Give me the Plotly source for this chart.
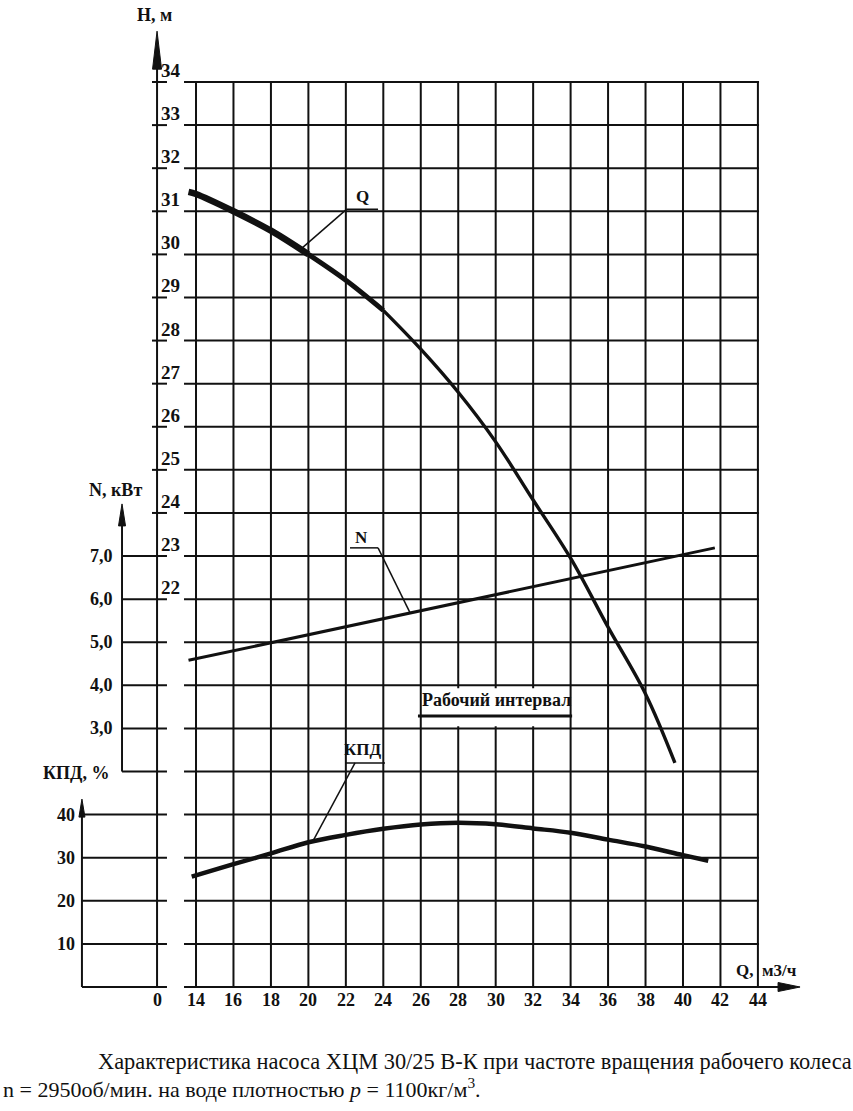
import plotly.graph_objects as go

# ---------------- data ----------------
# Q-H curve (напор)
q_head = [13.6, 14, 16, 18, 20, 22, 24, 26, 28, 30, 32, 34, 36, 38, 39.57]
head_m = [31.45, 31.4, 31.0, 30.55, 30.0, 29.4, 28.7, 27.8, 26.8, 25.65, 24.3, 22.95, 21.35, 19.8, 18.2]

# N line (мощность)
q_power = [13.6, 41.7]
power_kw = [4.58, 7.19]

# КПД curve
q_eff = [13.77, 16, 18, 20, 22, 24, 26, 28, 30, 32, 34, 36, 38, 40, 41.35]
eff_pct = [25.6, 28.5, 31.0, 33.6, 35.3, 36.7, 37.7, 38.1, 37.75, 36.8, 35.8, 34.2, 32.6, 30.6, 29.3]

# tick labels
q_ticks = list(range(14, 46, 2))
h_ticks = list(range(22, 35))
h_grid = list(range(13, 35))
n_ticks = [3.0, 4.0, 5.0, 6.0, 7.0]
n_grid = [2.0, 3.0, 4.0, 5.0, 6.0, 7.0]
eff_ticks = [10, 20, 30, 40]
eff_grid = [0, 10, 20, 30, 40]

caption1 = "Характеристика насоса ХЦМ 30/25 В-К при частоте вращения рабочего колеса"
caption2 = "n = 2950об/мин. на воде плотностью <i>p</i> = 1100кг/м<sup>3</sup>."

# ---------------- layout constants (axis units) ----------------
W, Hh = 853, 1111
X_RANGE = [3.535, 49.077]          # Q units across the page
H_RANGE = [10.1226, 35.903]        # H units across the page
N_OFF = 16.0                       # N = H - 16 (shared grid)
E_OFF, E_SC = 13.0, 10.0           # КПД = 10*(H - 13)

QU = (X_RANGE[1] - X_RANGE[0]) / W     # Q units per pixel
HU = (H_RANGE[1] - H_RANGE[0]) / Hh    # H units per pixel

X_HAX = 11.92     # H axis position
X_NAX = 10.05     # N axis position
X_EAX = 7.91      # КПД axis position
X_STUB0 = 11.65
X_STUB1 = 12.45
X_GRID0 = 13.36
X_GRID1 = 44.06
X_ARROW = 46.25

BLACK = "#111111"
FONT = "Liberation Serif, Times New Roman, Tinos, DejaVu Serif, serif"


def n2h(v):
    return v + N_OFF


def e2h(v):
    return v / E_SC + E_OFF


fig = go.Figure()

# ---------------- curves ----------------
segments = [(0, 5, 6.5), (4, 7, 5.0), (6, 15, 3.4)]
for a, b, w in segments:
    fig.add_trace(go.Scatter(x=q_head[a:b], y=head_m[a:b], mode="lines",
                             line=dict(color=BLACK, width=w, shape="spline", smoothing=1.0),
                             hoverinfo="skip", yaxis="y"))
fig.add_trace(go.Scatter(x=q_power, y=power_kw, mode="lines",
                         line=dict(color=BLACK, width=3), hoverinfo="skip", yaxis="y2"))
fig.add_trace(go.Scatter(x=q_eff, y=eff_pct, mode="lines",
                         line=dict(color=BLACK, width=4.5, shape="spline", smoothing=1.0),
                         hoverinfo="skip", yaxis="y3"))

shapes = []


def line(x0, y0, x1, y1, w=2.0, layer="below"):
    shapes.append(dict(type="line", xref="x", yref="y", x0=x0, y0=y0, x1=x1, y1=y1,
                       line=dict(color=BLACK, width=w), layer=layer))


# vertical grid
for q in q_ticks:
    line(q, h_grid[0], q, h_grid[-1])
# horizontal grid
for h in h_grid:
    line(X_GRID0, h, X_GRID1, h)
# x axis extension to arrow
line(X_GRID1, h_grid[0], X_ARROW - 0.6, h_grid[0])

# H axis
line(X_HAX, h_grid[0], X_HAX, 34.6)
for h in range(24, 35):
    line(X_STUB0, h, X_STUB1, h)
# N axis
line(X_NAX, n2h(n_grid[0]), X_NAX, 23.9)
for n in n_grid:
    line(X_NAX, n2h(n), X_STUB1, n2h(n))
# КПД axis
line(X_EAX, e2h(eff_grid[0]), X_EAX, 17.1)
for e in eff_grid:
    line(X_EAX, e2h(e), X_STUB1, e2h(e))


def tri(xt, yt, dx, dy, vertical=True):
    if vertical:
        p = f"M {xt},{yt} L {xt - dx},{yt - dy} L {xt + dx},{yt - dy} Z"
    else:
        p = f"M {xt},{yt} L {xt - dx},{yt - dy} L {xt - dx},{yt + dy} Z"
    shapes.append(dict(type="path", xref="x", yref="y", path=p,
                       fillcolor=BLACK, line=dict(color=BLACK, width=1), layer="above"))


tri(X_HAX, 35.18, 4.5 * QU, 38 * HU)
tri(X_NAX, n2h(8.21), 3.5 * QU, 22 * HU)
tri(X_EAX, e2h(43.6), 3.0 * QU, 18 * HU)
tri(X_ARROW, h_grid[0], 22 * QU, 4.5 * HU, vertical=False)

# white box behind "Рабочий интервал"
shapes.append(dict(type="rect", xref="x", yref="y", x0=26.12, x1=33.91, y0=19.05, y1=19.93,
                   fillcolor="white", line=dict(width=0), layer="above"))
# its underline
line(25.85, 19.29, 34.08, 19.29, w=3, layer="above")

# leader lines and label underlines
line(22.05, 31.05, 23.72, 31.05, w=1.5, layer="above")     # Q underline
line(22.05, 31.05, 19.64, 30.14, w=1.5, layer="above")     # Q leader
line(22.22, n2h(7.19), 23.72, n2h(7.19), w=1.5, layer="above")  # N underline
line(23.72, n2h(7.19), 25.43, n2h(5.68), w=1.5, layer="above")  # N leader
line(21.96, e2h(52.0), 24.09, e2h(52.0), w=1.5, layer="above")  # КПД underline
line(22.49, e2h(52.0), 20.25, e2h(33.9), w=1.5, layer="above")  # КПД leader

ann = []


def txt(x, y, s, size=17, xa="center", ya="middle", bold=True, yref="y"):
    ann.append(dict(x=x, y=y, xref="x", yref=yref, text=(f"<b>{s}</b>" if bold else s),
                    showarrow=False, xanchor=xa, yanchor=ya, borderpad=0,
                    font=dict(family=FONT, size=size, color=BLACK)))


# tick labels
for h in h_ticks:
    txt(12.08, h, str(h), size=19, xa="left", ya="bottom")
for n in n_ticks:
    txt(9.62, n2h(n), f"{n:.1f}".replace(".", ","), size=18, xa="right")
for e in eff_ticks:
    txt(7.59, e2h(e), str(e), size=18, xa="right")
for q in q_ticks:
    txt(q, 12.70, str(q), size=18)
txt(X_HAX, 12.70, "0", size=18)

# axis titles
txt(11.81, 35.55, "H, м", size=18)
txt(9.68, 24.53, "N, кВт", size=18)
txt(7.59, 17.97, "КПД, %", size=18)
txt(43.79, 13.39, "Q,", size=17, xa="right")
txt(44.16, 13.39, "м3/ч", size=17, xa="left")

# curve labels
txt(22.9, 31.34, "Q", size=17)
txt(22.86, n2h(7.44), "N", size=17)
txt(22.92, e2h(55.0), "КПД", size=17)
txt(30.02, 19.66, "Рабочий интервал", size=18)

# caption
txt(8.71, 11.26, caption1, size=22.4, xa="left", bold=False)
txt(3.64, 10.66, caption2, size=22, xa="left", bold=False)

fig.update_layout(
    width=W, height=Hh,
    margin=dict(l=0, r=0, t=0, b=0, pad=0),
    paper_bgcolor="white", plot_bgcolor="white",
    showlegend=False,
    font=dict(family=FONT),
    xaxis=dict(range=X_RANGE, visible=False, fixedrange=True),
    yaxis=dict(range=H_RANGE, visible=False, fixedrange=True),
    yaxis2=dict(range=[H_RANGE[0] - N_OFF, H_RANGE[1] - N_OFF], visible=False,
                overlaying="y", fixedrange=True),
    yaxis3=dict(range=[(H_RANGE[0] - E_OFF) * E_SC, (H_RANGE[1] - E_OFF) * E_SC],
                visible=False, overlaying="y", fixedrange=True),
    shapes=shapes,
    annotations=ann,
)

fig.write_html("out.html", config={"displayModeBar": False})
